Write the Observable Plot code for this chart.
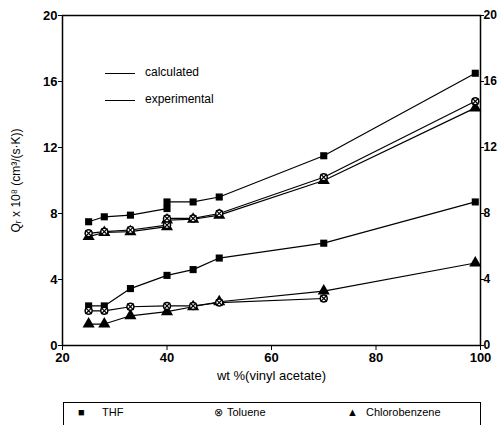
<!DOCTYPE html>
<html>
<head>
<meta charset="utf-8">
<script src="https://cdn.jsdelivr.net/npm/d3@7"></script>
<script src="https://cdn.jsdelivr.net/npm/@observablehq/plot@0.6"></script>
<style>
  body { margin:0; background:#fff; font-family:"Liberation Sans", Arial, sans-serif; }
  #wrap { position:relative; width:497px; height:428px; overflow:hidden; }
  .key { position:absolute; font-size:12px; color:#000; }
  .kline { position:absolute; height:0; border-top:1.3px solid #000; }
  #legend { position:absolute; left:63px; top:402px; width:416px; height:22px; border:1.5px solid #000; border-bottom:none; font-size:11px; }
  #legend span { position:absolute; top:3px; }
  g[aria-label^="y-axis tick label"] text, g[aria-label="x-axis tick label"] text { font-weight: bold; }
</style>
</head>
<body>
<div id="wrap">
  <div id="chart"></div>
  <div class="kline" style="left:105px;top:73px;width:30px"></div>
  <div class="key" style="left:145px;top:65px">calculated</div>
  <div class="kline" style="left:105px;top:100px;width:30px"></div>
  <div class="key" style="left:145px;top:92px">experimental</div>
  <div id="legend"></div>
</div>
<script>
const xUpper = [25, 28, 33, 40, 40, 45, 50, 70, 99];
const thfUpper = [7.5, 7.8, 7.9, 8.3, 8.7, 8.7, 9.0, 11.5, 16.5];
const tolUpper = [6.8, 6.9, 7.0, 7.3, 7.7, 7.7, 8.0, 10.2, 14.8];
const clbUpper = [6.6, 6.85, 6.9, 7.2, 7.6, 7.65, 7.9, 10.0, 14.4];

const xLower = [25, 28, 33, 40, 45, 50, 70, 99];
const thfLower = [2.4, 2.4, 3.45, 4.25, 4.6, 5.3, 6.2, 8.7];
const xTolLower = [25, 28, 33, 40, 45, 50, 70];
const tolLower = [2.1, 2.1, 2.35, 2.4, 2.4, 2.6, 2.85];
const clbLower = [1.3, 1.3, 1.8, 2.05, 2.35, 2.65, 3.3, 5.0];

const xTicks = [20, 40, 60, 80, 100];
const yTicks = [0, 4, 8, 12, 16, 20];
const solvents = ["THF", "Toluene", "Chlorobenzene"];

function series(xs, ys, solvent, group) {
  return xs.map((x, i) => ({x, y: ys[i], solvent, group}));
}
const data = [
  ...series(xUpper, thfUpper, "THF", "thfU"),
  ...series(xUpper, tolUpper, "Toluene", "tolU"),
  ...series(xUpper, clbUpper, "Chlorobenzene", "clbU"),
  ...series(xLower, thfLower, "THF", "thfL"),
  ...series(xTolLower, tolLower, "Toluene", "tolL"),
  ...series(xLower, clbLower, "Chlorobenzene", "clbL")
];

const chart = Plot.plot({
  width: 497,
  height: 395,
  marginLeft: 62,
  marginRight: 17,
  marginTop: 15,
  marginBottom: 50,
  style: {fontFamily: "Liberation Sans, Arial, sans-serif", fontSize: "13px", color: "#000", overflow: "visible"},
  x: {domain: [20, 100], ticks: xTicks, label: null},
  y: {domain: [0, 20], ticks: yTicks, label: null},
  marks: [
    Plot.frame({stroke: "#000", strokeWidth: 1.5}),
    Plot.axisX({ticks: xTicks, tickSize: 5, tickPadding: 2, fontSize: 13}),
    Plot.axisY({anchor: "left", ticks: yTicks, tickSize: 4, tickPadding: 1, fontSize: 13}),
    Plot.axisY({anchor: "right", ticks: yTicks, tickSize: 3, tickPadding: 0, fontSize: 12}),
    Plot.line(data, {x: "x", y: "y", z: "group", stroke: "#000", strokeWidth: 1.2}),
    Plot.dot(data.filter(d => d.solvent === "THF"), {x: "x", y: "y", symbol: "square", fill: "#000", r: 4}),
    Plot.dot(data.filter(d => d.solvent === "Chlorobenzene"), {x: "x", y: "y", symbol: "triangle", fill: "#000", r: 4.5}),
    Plot.dot(data.filter(d => d.solvent === "Toluene"), {x: "x", y: "y", symbol: "circle", fill: "#fff", stroke: "#000", strokeWidth: 1.5, r: 3.5}),
    Plot.dot(data.filter(d => d.solvent === "Toluene"), {x: "x", y: "y", symbol: "times", stroke: "#000", strokeWidth: 1.2, r: 3}),
    Plot.text(["wt %(vinyl acetate)"], {frameAnchor: "bottom", dy: 34, fontSize: 13}),
    Plot.text(["Qᵣ x 10⁸ (cm³/(s·K))"], {frameAnchor: "left", textAnchor: "middle", dx: -46, rotate: -90, fontSize: 12})
  ]
});
document.getElementById("chart").appendChild(chart);

const legend = document.getElementById("legend");
const marks = {THF: "■", Toluene: "⊗", Chlorobenzene: "▲"};
const pos = [[14, 38], [150, 163], [283, 302]];
solvents.forEach((s, i) => {
  const m = document.createElement("span");
  m.textContent = marks[s];
  m.style.left = pos[i][0] + "px";
  m.style.fontSize = "11px";
  legend.appendChild(m);
  const t = document.createElement("span");
  t.textContent = s;
  t.style.left = pos[i][1] + "px";
  legend.appendChild(t);
});
</script>
</body>
</html>
